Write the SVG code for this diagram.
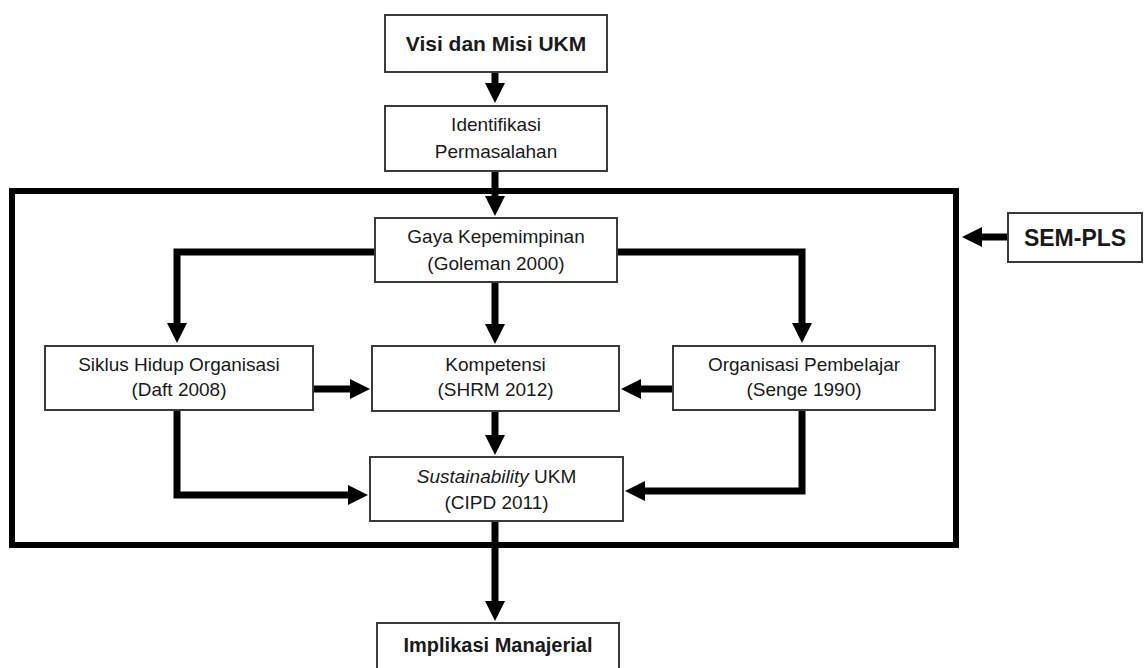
<svg xmlns="http://www.w3.org/2000/svg" width="1144" height="668" viewBox="0 0 1144 668">
<style>
.box{fill:#fff;stroke:#3a3a3a;stroke-width:2}
.t{font-family:"Liberation Sans",Arial,sans-serif;font-size:19px;fill:#1a1a1a;text-anchor:middle}
.b{font-weight:bold}
.c{fill:none;stroke:#000;stroke-width:7;stroke-linejoin:miter;stroke-linecap:butt}
.frame{fill:none;stroke:#000;stroke-width:6}
</style>
<defs>
<marker id="ah" viewBox="0 0 20 20" markerWidth="20" markerHeight="21" markerUnits="userSpaceOnUse" refX="1" refY="10" orient="auto">
<path d="M0,0 L20,10 L0,20 z" fill="#000"/>
</marker>
</defs>
<rect width="1144" height="668" fill="#fff"/>
<rect id="frame" class="frame" x="12" y="191" width="944" height="354"/>
<g id="connectors">
<path class="c" d="M495,72 V84" marker-end="url(#ah)"/>
<path class="c" d="M495,171 V197" marker-end="url(#ah)"/>
<path class="c" d="M375,252 H177 V324" marker-end="url(#ah)"/>
<path class="c" d="M617,252 H802 V324" marker-end="url(#ah)"/>
<path class="c" d="M495,282 V325" marker-end="url(#ah)"/>
<path class="c" d="M313,389 H351" marker-end="url(#ah)"/>
<path class="c" d="M673,389 H640" marker-end="url(#ah)"/>
<path class="c" d="M495,411 V436" marker-end="url(#ah)"/>
<path class="c" d="M177,410 V495 H349" marker-end="url(#ah)"/>
<path class="c" d="M802,410 V491 H644" marker-end="url(#ah)"/>
<path class="c" d="M495,521 V602" marker-end="url(#ah)"/>
<path class="c" d="M1008,237 H981" marker-end="url(#ah)"/>
</g>
<g id="visi">
<rect class="box" x="385" y="15" width="222" height="57"/>
<text class="t b" x="496" y="51" style="font-size:21px">Visi dan Misi UKM</text>
</g>
<g id="identifikasi">
<rect class="box" x="385" y="106" width="222" height="65"/>
<text class="t" x="496" y="131">Identifikasi</text>
<text class="t" x="496" y="158">Permasalahan</text>
</g>
<g id="gaya">
<rect class="box" x="375" y="218" width="242" height="64"/>
<text class="t" x="496" y="243">Gaya Kepemimpinan</text>
<text class="t" x="496" y="270">(Goleman 2000)</text>
</g>
<g id="siklus">
<rect class="box" x="45" y="346" width="268" height="64"/>
<text class="t" x="179" y="371">Siklus Hidup Organisasi</text>
<text class="t" x="179" y="396">(Daft 2008)</text>
</g>
<g id="kompetensi">
<rect class="box" x="372" y="346" width="247" height="65"/>
<text class="t" x="495.5" y="371">Kompetensi</text>
<text class="t" x="495.5" y="396">(SHRM 2012)</text>
</g>
<g id="organisasi">
<rect class="box" x="673" y="346" width="262" height="64"/>
<text class="t" x="804" y="371">Organisasi Pembelajar</text>
<text class="t" x="804" y="396">(Senge 1990)</text>
</g>
<g id="sustainability">
<rect class="box" x="370" y="457" width="253" height="64"/>
<text class="t" x="496.5" y="483"><tspan font-style="italic">Sustainability</tspan> UKM</text>
<text class="t" x="496.5" y="509">(CIPD 2011)</text>
</g>
<g id="implikasi">
<rect class="box" x="377" y="623" width="242" height="60"/>
<text class="t b" x="498" y="652" style="font-size:20px">Implikasi Manajerial</text>
</g>
<g id="sempls">
<rect class="box" x="1008" y="213" width="134" height="49"/>
<text class="t b" x="1075" y="246" style="font-size:23px">SEM-PLS</text>
</g>
</svg>
